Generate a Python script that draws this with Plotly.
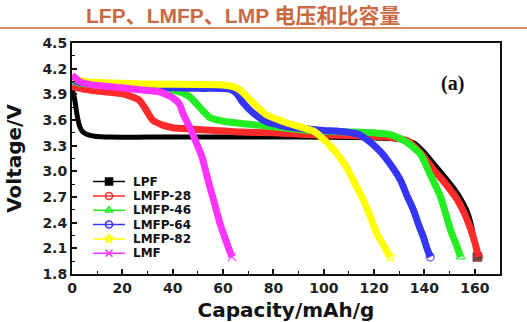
import plotly.graph_objects as go

# ---------------- data ----------------
lpf_x = [0, 1, 2, 3, 4, 6, 9, 15, 30, 60, 90, 120, 131, 136, 140, 144, 148, 152, 155, 157, 158.5, 159.8, 161]
lpf_y = [3.97, 3.85, 3.66, 3.53, 3.47, 3.43, 3.41, 3.40, 3.40, 3.40, 3.40, 3.39, 3.37, 3.33, 3.22, 3.08, 2.94, 2.79, 2.65, 2.53, 2.39, 2.20, 2.0]

m28_x = [0, 5, 10, 16, 21, 24, 26.8, 29.4, 32, 36, 40, 44, 55, 67, 80, 93, 110, 125, 133, 138, 143.6, 148, 153, 156, 158.3, 160, 161.5]
m28_y = [3.99, 3.96, 3.94, 3.92, 3.90, 3.87, 3.83, 3.72, 3.60, 3.54, 3.51, 3.50, 3.48, 3.46, 3.45, 3.43, 3.42, 3.40, 3.36, 3.23, 3.02, 2.87, 2.67, 2.50, 2.33, 2.17, 2.0]

m46_x = [0, 3, 10, 20, 30, 36, 40, 43.5, 46.8, 50.7, 54.7, 58, 61.3, 67, 73.4, 86.6, 97, 110, 120, 126.4, 133, 138.4, 142, 146.4, 150.4, 152.5, 154.4]
m46_y = [4.07, 4.03, 4.01, 4.00, 3.98, 3.97, 3.95, 3.92, 3.87, 3.75, 3.63, 3.60, 3.58, 3.56, 3.54, 3.50, 3.47, 3.46, 3.45, 3.43, 3.34, 3.20, 2.98, 2.70, 2.31, 2.15, 2.0]

m64_x = [0, 3, 10, 20, 37.5, 50, 62.7, 65.4, 68, 72, 77.3, 81, 85.4, 92, 98.5, 109, 114, 118.5, 122.5, 126.5, 130.4, 133, 135.6, 138, 139.6, 141, 142.3]
m64_y = [4.08, 4.04, 4.02, 4.01, 3.98, 3.97, 3.96, 3.91, 3.80, 3.68, 3.58, 3.55, 3.52, 3.50, 3.48, 3.46, 3.43, 3.34, 3.23, 3.08, 2.90, 2.72, 2.55, 2.35, 2.23, 2.10, 2.0]

m82_x = [0, 3, 10, 30, 60, 64, 66.7, 69, 72, 77.3, 84, 90.6, 96, 99, 102.5, 106, 109, 112, 115.8, 118.5, 121, 124, 126.4]
m82_y = [4.10, 4.06, 4.04, 4.02, 4.01, 3.99, 3.95, 3.89, 3.80, 3.66, 3.58, 3.52, 3.47, 3.40, 3.30, 3.18, 3.05, 2.88, 2.66, 2.47, 2.28, 2.12, 2.0]

lmf_x = [0, 1, 3, 8, 15, 21.6, 28, 34.8, 40, 42.8, 44, 46.7, 49, 51.5, 54, 56, 58.7, 61, 63.5]
lmf_y = [4.12, 4.10, 4.05, 4.01, 3.99, 3.97, 3.95, 3.93, 3.86, 3.78, 3.68, 3.52, 3.36, 3.18, 2.90, 2.69, 2.40, 2.20, 2.0]

names = ["LPF", "LMFP-28", "LMFP-46", "LMFP-64", "LMFP-82", "LMF"]
xs = [lpf_x, m28_x, m46_x, m64_x, m82_x, lmf_x]
ys = [lpf_y, m28_y, m46_y, m64_y, m82_y, lmf_y]

x_ticks = [0, 20, 40, 60, 80, 100, 120, 140, 160]
y_ticks = [1.8, 2.1, 2.4, 2.7, 3.0, 3.3, 3.6, 3.9, 4.2, 4.5]

# ---------------- styles ----------------
colors = ["#000000", "#FF2A2A", "#22EE22", "#3535F5", "#FFFF00", "#FF33FF"]
symbols = ["square", "circle-open", "triangle-up-open", "circle-open", "star-open", "x-thin-open"]
widths = [5, 7, 7, 7, 7, 7]

fig = go.Figure()

for i in range(len(names)):
    n = len(xs[i])
    fig.add_trace(go.Scatter(
        x=xs[i], y=ys[i], mode="lines+markers", name=names[i], showlegend=False,
        line=dict(color=colors[i], width=widths[i], shape="spline", smoothing=0.6),
        marker=dict(symbol=symbols[i], color=colors[i], size=[0] * (n - 1) + [8],
                    line=dict(color=colors[i], width=1.5)),
    ))

# manual legend on an overlay axis (0..1 of plot area)
leg_top, leg_step = 0.40, 0.062
leg_x0, leg_x1, leg_tx = 0.049, 0.124, 0.138
for i in range(len(names)):
    yy = leg_top - i * leg_step
    fig.add_trace(go.Scatter(
        x=[leg_x0, leg_x1], y=[yy, yy], xaxis="x2", yaxis="y2", mode="lines",
        line=dict(color=colors[i], width=1.5), showlegend=False, hoverinfo="skip"))
    fig.add_trace(go.Scatter(
        x=[(leg_x0 + leg_x1) / 2], y=[yy], xaxis="x2", yaxis="y2", mode="markers",
        marker=dict(symbol=symbols[i], color=colors[i], size=7,
                    line=dict(color=colors[i], width=1.5)),
        showlegend=False, hoverinfo="skip"))
    fig.add_annotation(x=leg_tx, y=yy, xref="x2", yref="y2", text="<b>%s</b>" % names[i],
                       showarrow=False, xanchor="left", yanchor="middle",
                       font=dict(family="DejaVu Sans", size=12, color="#111"))

tickfont = dict(family="DejaVu Sans", size=14, color="#222")
axcommon = dict(showgrid=False, zeroline=False, showline=True, linecolor="#111", linewidth=2,
                mirror=True, ticks="inside", ticklen=5, tickwidth=1.5, tickcolor="#111",
                tickfont=tickfont, automargin=False)

fig.update_layout(
    width=527, height=322, margin=dict(l=72, r=27, t=43, b=48),
    paper_bgcolor="white", plot_bgcolor="white",
    xaxis=dict(range=[0, 170], tickvals=x_ticks,
               ticktext=["<b>%d</b>" % v for v in x_ticks],
               minor=dict(dtick=10, ticks="inside", ticklen=3, tickwidth=1.2, tickcolor="#111"),
               title=dict(text="<b>Capacity/mAh/g</b>",
                          font=dict(family="DejaVu Sans", size=20, color="#111")),
               **axcommon),
    yaxis=dict(range=[1.8, 4.5], tickvals=y_ticks,
               ticktext=["<b>%.1f</b>" % v for v in y_ticks],
               minor=dict(dtick=0.15, tick0=1.8, ticks="inside", ticklen=3, tickwidth=1.2, tickcolor="#111"),
               title=dict(text="<b>Voltage/V</b>",
                          font=dict(family="DejaVu Sans", size=20, color="#111")),
               **axcommon),
    xaxis2=dict(range=[0, 1], overlaying="x", visible=False, fixedrange=True),
    yaxis2=dict(range=[0, 1], overlaying="y", visible=False, fixedrange=True),
    showlegend=False,
)

# panel label
fig.add_annotation(x=0.92, y=0.885, xref="paper", yref="paper", text="<b>(a)</b>",
                   showarrow=False, font=dict(family="Liberation Serif", size=20, color="#111"))

# header title and rule
fig.add_annotation(x=0.40, y=1.121, xref="paper", yref="paper",
                   text="<b>LFP、LMFP、LMP 电压和比容量</b>", showarrow=False,
                   xanchor="center", yanchor="middle",
                   font=dict(family="Liberation Sans, Noto Sans CJK SC", size=21, color="#C96A43"))
fig.add_shape(type="line", xref="paper", yref="paper", x0=-0.2, x1=1.1, y0=1.065, y1=1.065,
              line=dict(color="#D98A66", width=2))

fig.write_html("out.html")
